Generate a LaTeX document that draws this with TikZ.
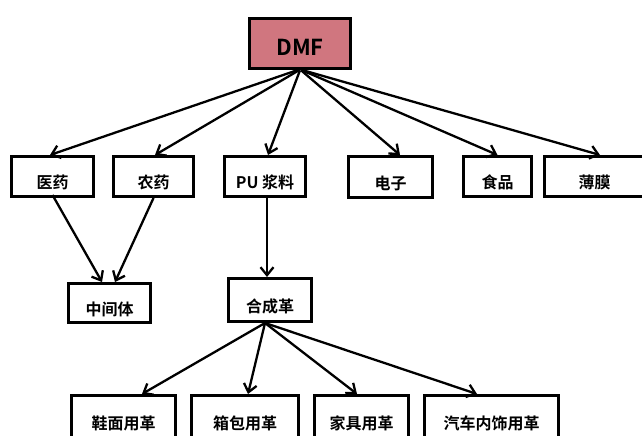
\documentclass[tikz,border=0pt]{standalone}
\usepackage{fontspec}
\setmainfont{Noto Sans CJK SC}[BoldFont={* Bold}]
\usetikzlibrary{arrows.meta}
\definecolor{dmfred}{RGB}{208,118,127}
\tikzset{
  box/.style={draw=black, line width=3pt, fill=white, inner sep=0pt,
    minimum height=40pt, text height=24pt, text depth=0pt,
    font=\bfseries\fontsize{16pt}{16pt}\selectfont},
  conn/.style={line width=2.3pt, -{Straight Barb[length=8pt,width=13pt]}}
}
\begin{document}
\begin{tikzpicture}[x=1pt,y=-1pt]
\clip (0,0) rectangle (642,436);
\fill[white] (0,0) rectangle (642,436);
% top
\node[box, fill=dmfred, line width=3.5pt, minimum width=101pt, minimum height=50pt,
  font=\bfseries\fontsize{22pt}{22pt}\selectfont] (dmf) at (300,43.5) {DMF};
% second row
\node[box, minimum width=82pt] (yy) at (52.5,176.5) {医药};
\node[box, minimum width=80pt] (ny) at (153.5,176.5) {农药};
\node[box, minimum width=81pt] (pu) at (265,176.5) {PU 浆料};
\node[box, minimum width=84pt, minimum height=41pt] (dz) at (390.5,177) {电子};
\node[box, minimum width=68pt] (sp) at (497.5,176.5) {食品};
\node[box, minimum width=100pt] (bm) at (594.5,176.5) {薄膜};
% third row
\node[box, minimum width=82pt, minimum height=39pt] (zjt) at (109.5,303) {中间体};
\node[box, minimum width=83pt, minimum height=43pt] (hcg) at (270,300) {合成革};
% bottom row
\tikzset{lowrow/.style={box, minimum height=46pt, text height=22pt}}
\node[lowrow, minimum width=104pt] (xm) at (123.5,418.5) {鞋面用革};
\node[lowrow, minimum width=107pt] (xb) at (245,418.5) {箱包用革};
\node[lowrow, minimum width=94pt] (jj) at (361.5,418.5) {家具用革};
\node[lowrow, minimum width=134pt] (qc) at (491.5,418.5) {汽车内饰用革};
% connectors from DMF
\draw[conn] ([xshift=-3pt]dmf.south) -- ([xshift=-2.5pt]yy.north);
\draw[conn] ([xshift=-1pt]dmf.south) -- ([xshift=1.5pt]ny.north);
\draw[conn] (dmf.south) -- ([xshift=3pt]pu.north);
\draw[conn] ([xshift=1pt]dmf.south) -- ([xshift=9.5pt]dz.north);
\draw[conn] ([xshift=2pt]dmf.south) -- (sp.north);
\draw[conn] ([xshift=3pt]dmf.south) -- ([xshift=5.5pt]bm.north);
% to intermediate
\draw[conn] ([yshift=3pt]yy.south) -- ([xshift=-7.5pt]zjt.north);
\draw[conn] (ny.south) -- ([xshift=5.5pt]zjt.north);
% PU to synthetic leather
\draw[conn] ([xshift=2pt]pu.south) -- ([xshift=-3pt]hcg.north);
% from synthetic leather
\draw[conn] ([xshift=-5pt]hcg.south) -- ([xshift=18.5pt]xm.north);
\draw[conn] ([xshift=-5pt]hcg.south) -- ([xshift=3pt]xb.north);
\draw[conn] ([xshift=-5pt]hcg.south) -- ([xshift=-4.5pt]jj.north);
\draw[conn] ([xshift=-5pt]hcg.south) -- ([xshift=-14.5pt]qc.north);
\end{tikzpicture}
\end{document}
